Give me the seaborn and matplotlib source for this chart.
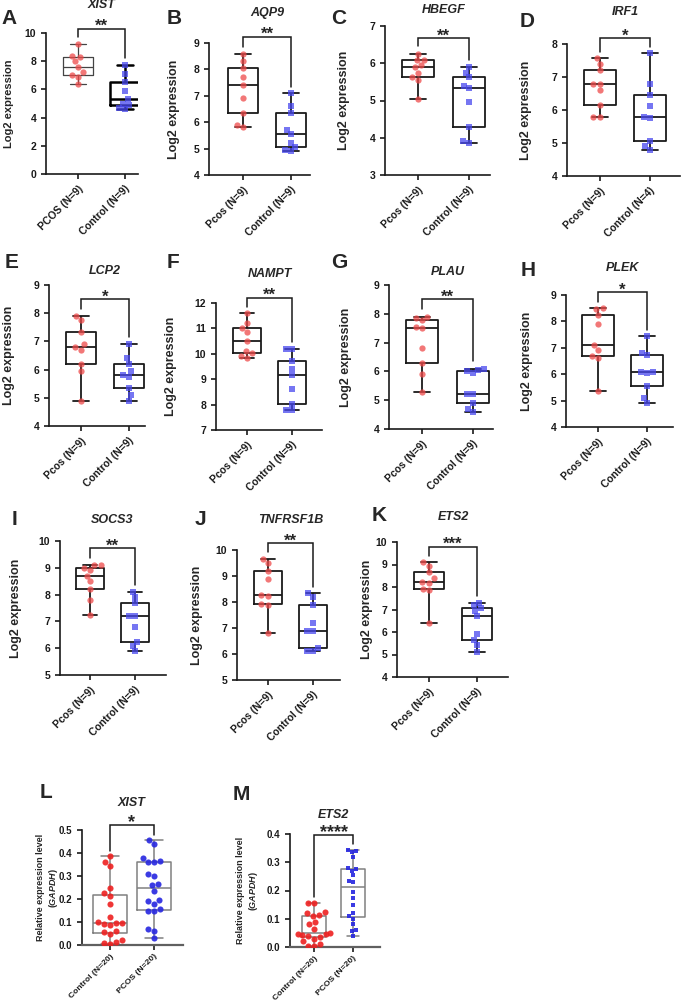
import numpy as np
import pandas as pd
import matplotlib
matplotlib.use("Agg")
import matplotlib.pyplot as plt
import matplotlib.transforms as mtransforms
from matplotlib.ticker import FormatStrFormatter
import seaborn as sns

# ---- data (log2 expression / relative expression) ----
xist_pcos = [6.35, 6.9, 7.05, 7.2, 7.6, 8.0, 8.3, 8.4, 9.2]
xist_ctrl = [4.6, 4.65, 4.9, 5.0, 5.3, 5.9, 6.5, 7.1, 7.75]
aqp9_pcos = [5.8, 5.9, 6.35, 6.9, 7.4, 7.7, 8.05, 8.3, 8.6]
aqp9_ctrl = [4.9, 4.95, 5.05, 5.2, 5.55, 5.7, 6.35, 6.6, 7.1]
hbegf_pcos = [5.05, 5.55, 5.62, 5.75, 5.9, 5.95, 6.08, 6.1, 6.25]
hbegf_ctrl = [3.87, 3.9, 4.3, 4.95, 5.33, 5.4, 5.62, 5.75, 5.9]
irf1_pcos = [5.8, 5.8, 6.15, 6.6, 6.8, 6.8, 7.2, 7.4, 7.57]
irf1_ctrl = [4.8, 4.9, 5.05, 5.75, 5.8, 6.12, 6.45, 6.8, 7.72]
lcp2_pcos = [4.9, 5.95, 6.2, 6.7, 6.8, 6.9, 7.35, 7.75, 7.9]
lcp2_ctrl = [4.9, 5.1, 5.35, 5.75, 5.8, 5.95, 6.2, 6.4, 6.9]
nampt_pcos = [9.85, 9.9, 10.02, 10.1, 10.5, 10.85, 11.0, 11.2, 11.6]
nampt_ctrl = [7.8, 7.8, 8.03, 8.6, 9.15, 9.4, 9.73, 10.2, 10.2]
plau_pcos = [5.3, 5.9, 6.3, 6.8, 7.5, 7.55, 7.78, 7.85, 7.9]
plau_ctrl = [4.6, 4.7, 4.9, 5.2, 5.2, 5.95, 6.03, 6.05, 6.1]
plek_pcos = [5.38, 6.6, 6.7, 6.92, 7.1, 7.9, 8.25, 8.48, 8.5]
plek_ctrl = [4.9, 5.1, 5.55, 6.05, 6.08, 6.1, 6.72, 6.82, 7.43]
socs3_pcos = [7.25, 7.8, 8.2, 8.5, 8.7, 8.92, 9.0, 9.1, 9.1]
socs3_ctrl = [5.9, 6.1, 6.25, 6.8, 7.2, 7.2, 7.67, 7.9, 8.1]
tnfrsf1b_pcos = [6.82, 7.9, 7.93, 8.25, 8.28, 8.9, 9.2, 9.5, 9.67]
tnfrsf1b_ctrl = [6.1, 6.1, 6.22, 6.9, 6.9, 7.2, 7.9, 8.2, 8.33]
ets2_pcos = [6.4, 7.85, 7.9, 8.2, 8.22, 8.4, 8.65, 8.95, 9.1]
ets2_ctrl = [5.1, 5.4, 5.63, 5.9, 6.7, 6.95, 7.05, 7.2, 7.3]

qpcr_xist_ctrl = [0.005, 0.01, 0.015, 0.02, 0.05, 0.055, 0.06, 0.085, 0.09, 0.095,
                  0.095, 0.1, 0.12, 0.18, 0.215, 0.225, 0.25, 0.345, 0.36, 0.385]
qpcr_xist_pcos = [0.032, 0.06, 0.07, 0.15, 0.15, 0.155, 0.18, 0.19, 0.195, 0.235,
                  0.26, 0.265, 0.3, 0.31, 0.36, 0.36, 0.365, 0.38, 0.44, 0.455]
qpcr_ets2_ctrl = [0.005, 0.005, 0.01, 0.02, 0.03, 0.035, 0.04, 0.042, 0.045, 0.047,
                  0.05, 0.065, 0.08, 0.09, 0.11, 0.115, 0.12, 0.125, 0.155, 0.157]
qpcr_ets2_pcos = [0.04, 0.055, 0.06, 0.08, 0.1, 0.11, 0.12, 0.15, 0.175, 0.195,
                  0.23, 0.235, 0.255, 0.27, 0.275, 0.28, 0.32, 0.335, 0.34, 0.345]

labels_upper = ["PCOS (N=9)", "Control (N=9)"]
labels_pcos = ["Pcos (N=9)", "Control (N=9)"]
labels_irf1 = ["Pcos (N=9)", "Control (N=4)"]
labels_qpcr = ["Control (N=20)", "PCOS (N=20)"]

stars = {"A": "**", "B": "**", "C": "**", "D": "*", "E": "*", "F": "**", "G": "**",
         "H": "*", "I": "**", "J": "**", "K": "***", "L": "*", "M": "****"}

# ---- styling ----
sns.set_style("ticks")
plt.rcParams["font.family"] = ["Liberation Sans", "DejaVu Sans"]
plt.rcParams["font.weight"] = "bold"
plt.rcParams["axes.labelweight"] = "bold"
plt.rcParams["mathtext.fontset"] = "custom"
plt.rcParams["mathtext.it"] = "Liberation Sans:italic:bold"
plt.rcParams["mathtext.rm"] = "Liberation Sans:bold"

RED, BLUE = "#ee4a4a", "#4848ee"
RED2, BLUE2 = "#ee2020", "#2626e0"
LOG2 = "Log2 expression"
REL = "Relative expression level\n($\\mathit{GAPDH}$)"

panels = [
    dict(letter="A", gene="XIST", labels=labels_upper, values=[xist_pcos, xist_ctrl],
         ticks=np.arange(0, 11, 2), bracket=10.28, ylabel=LOG2),
    dict(letter="B", gene="AQP9", labels=labels_pcos, values=[aqp9_pcos, aqp9_ctrl],
         ticks=np.arange(4, 10), bracket=9.23, ylabel=LOG2),
    dict(letter="C", gene="HBEGF", labels=labels_pcos, values=[hbegf_pcos, hbegf_ctrl],
         ticks=np.arange(3, 8), bracket=6.67, ylabel=LOG2),
    dict(letter="D", gene="IRF1", labels=labels_irf1, values=[irf1_pcos, irf1_ctrl],
         ticks=np.arange(4, 9), bracket=8.17, ylabel=LOG2),
    dict(letter="E", gene="LCP2", labels=labels_pcos, values=[lcp2_pcos, lcp2_ctrl],
         ticks=np.arange(4, 10), bracket=8.49, ylabel=LOG2),
    dict(letter="F", gene="NAMPT", labels=labels_pcos, values=[nampt_pcos, nampt_ctrl],
         ticks=np.arange(7, 13), bracket=12.2, ylabel=LOG2),
    dict(letter="G", gene="PLAU", labels=labels_pcos, values=[plau_pcos, plau_ctrl],
         ticks=np.arange(4, 10), bracket=8.5, ylabel=LOG2),
    dict(letter="H", gene="PLEK", labels=labels_pcos, values=[plek_pcos, plek_ctrl],
         ticks=np.arange(4, 10), bracket=9.1, ylabel=LOG2),
    dict(letter="I", gene="SOCS3", labels=labels_pcos, values=[socs3_pcos, socs3_ctrl],
         ticks=np.arange(5, 11), bracket=9.73, ylabel=LOG2),
    dict(letter="J", gene="TNFRSF1B", labels=labels_pcos, values=[tnfrsf1b_pcos, tnfrsf1b_ctrl],
         ticks=np.arange(5, 11), bracket=10.26, ylabel=LOG2),
    dict(letter="K", gene="ETS2", labels=labels_pcos, values=[ets2_pcos, ets2_ctrl],
         ticks=np.arange(4, 11), bracket=9.8, ylabel=LOG2),
    dict(letter="L", gene="XIST", labels=labels_qpcr, values=[qpcr_xist_ctrl, qpcr_xist_pcos],
         ticks=np.arange(0, 0.51, 0.1), bracket=0.522, ylabel=REL),
    dict(letter="M", gene="ETS2", labels=labels_qpcr, values=[qpcr_ets2_ctrl, qpcr_ets2_pcos],
         ticks=np.arange(0, 0.41, 0.1), bracket=0.398, ylabel=REL),
]

# layout in pixels: axes box (left, top, right, bottom), group centres,
# title y, letter (x, y), y-label right edge x
layout = {
    "A": ((46, 33, 138, 174), (78, 125), 5, (1, 9), 14),
    "B": ((209, 43, 310, 175), (243, 291), 13, (167, 9), 180),
    "C": ((385, 26, 490, 175), (418, 469), 10, (331, 9), 350),
    "D": ((567, 44, 680, 176), (600, 650), 12, (520, 12), 532),
    "E": ((49, 285, 145, 426), (81, 129), 271, (5, 253), 15),
    "F": ((216, 303, 322, 430), (247, 292), 274, (167, 253), 177),
    "G": ((389, 285, 493, 429), (422, 473), 272, (331, 253), 352),
    "H": ((566, 295, 673, 427), (598, 647), 268, (521, 261), 533),
    "I": ((60, 541, 166, 675), (90, 135), 520, (12, 510), 22),
    "J": ((237, 550, 340, 680), (268, 313), 520, (195, 510), 203),
    "K": ((397, 542, 508, 677), (429, 477), 517, (372, 506), 373),
    "L": ((82, 830, 183, 945), (110, 154), 803, (40, 783), 60),
    "M": ((290, 834, 380, 947), (314, 353), 815, (233, 785), 260),
}

W, H = 685, 1001
fig = plt.figure(figsize=(W / 100, H / 100), dpi=100)

for p in panels:
    letter = p["letter"]
    (x0, y0, x1, y1), (c0, c1), title_y, (lx, ly), ylab_x = layout[letter]
    qpcr = letter in ("L", "M")
    ax = fig.add_axes([x0 / W, 1 - y1 / H, (x1 - x0) / W, (y1 - y0) / H])

    df = pd.DataFrame({
        "group": np.repeat(p["labels"], [len(v) for v in p["values"]]),
        "value": np.concatenate(p["values"]),
    })
    order = p["labels"]

    for i, grp in enumerate(order):
        sub = df[df["group"] == grp]
        if qpcr:
            box_color, lw = "#808080", 1.1
            pt_color = RED2 if i == 0 else BLUE2
            marker = "o" if (i == 0 or letter == "L") else "s"
            size = 4.4 if marker == "o" else 3.2
            alpha = 0.9
        else:
            box_color, lw = "#1a1a1a", 1.3
            if letter == "A":
                box_color, lw = ("#444444", 0.9) if i == 0 else ("black", 1.8)
            pt_color = RED if i == 0 else BLUE
            marker = "o" if i == 0 else "s"
            size = 4.5 if i == 0 else 4.2
            alpha = 0.75
        width = 0.78 if letter == "L" else 0.64
        sns.boxplot(data=sub, x="group", y="value", order=order, whis=(0, 100),
                    fill=False, color=box_color, linewidth=lw, width=width,
                    showfliers=False, ax=ax)
        sns.swarmplot(data=sub, x="group", y="value", order=order, color=pt_color,
                      marker=marker, size=size, alpha=alpha, linewidth=0, ax=ax)

    # axes limits so that group centres land on their pixel positions
    span = c1 - c0
    ax.set_xlim((x0 - c0) / span, (x1 - c0) / span)
    ticks = p["ticks"]
    ax.set_ylim(ticks[0], ticks[-1])
    ax.set_yticks(ticks)
    if qpcr:
        ax.yaxis.set_major_formatter(FormatStrFormatter("%.1f"))
    ax.set_xticks([0, 1])
    ax.set_xticklabels(order, rotation=45, ha="right", rotation_mode="anchor")
    ax.set_xlabel("")
    ax.set_ylabel(p["ylabel"], fontsize=6.5 if qpcr else (8 if letter == "A" else 9),
                  fontweight="bold")
    ax.yaxis.set_label_coords((ylab_x - x0) / (x1 - x0), 0.5)

    sns.despine(ax=ax)
    for side in ("left", "bottom"):
        ax.spines[side].set_linewidth(1.2)
        ax.spines[side].set_color("#1a1a1a")
    if qpcr:
        ax.spines["bottom"].set_color("#606060")
        ax.spines["bottom"].set_linewidth(1.6)
        ax.tick_params(axis="y", length=3.5, width=1.2, labelsize=7, colors="#1a1a1a")
        ax.tick_params(axis="x", length=3.5, width=1.2, labelsize=6.1, pad=2,
                       colors="#1a1a1a")
    else:
        ax.tick_params(axis="both", length=3.5, width=1.2, labelsize=7.5,
                       colors="#1a1a1a")
    for t in ax.get_xticklabels() + ax.get_yticklabels():
        t.set_fontweight("bold")

    # significance bracket
    lo, hi = ticks[0], ticks[-1]
    gap = 0.05 * (hi - lo)
    by = p["bracket"]
    leg0 = max(p["values"][0]) + gap
    leg1 = max(p["values"][1]) + gap
    ax.plot([0, 0, 1, 1], [leg0, by, by, leg1], color="#1a1a1a", lw=1.1,
            clip_on=False, solid_joinstyle="miter")
    ax.annotate(stars[letter], xy=(0.5, by), xytext=(0, -1.5), textcoords="offset points",
                ha="center", va="baseline", fontsize=13 if qpcr else 12,
                fontweight="bold", annotation_clip=False)

    # gene title and panel letter
    trans = mtransforms.blended_transform_factory(ax.transData, fig.transFigure)
    ax.text(0.5, 1 - title_y / H, p["gene"], transform=trans, ha="center", va="center",
            fontsize=9, fontweight="bold", style="italic")
    fig.text(lx / W, 1 - ly / H, letter, ha="left", va="top", fontsize=15,
             fontweight="bold")

fig.savefig("out.png", dpi=100)
